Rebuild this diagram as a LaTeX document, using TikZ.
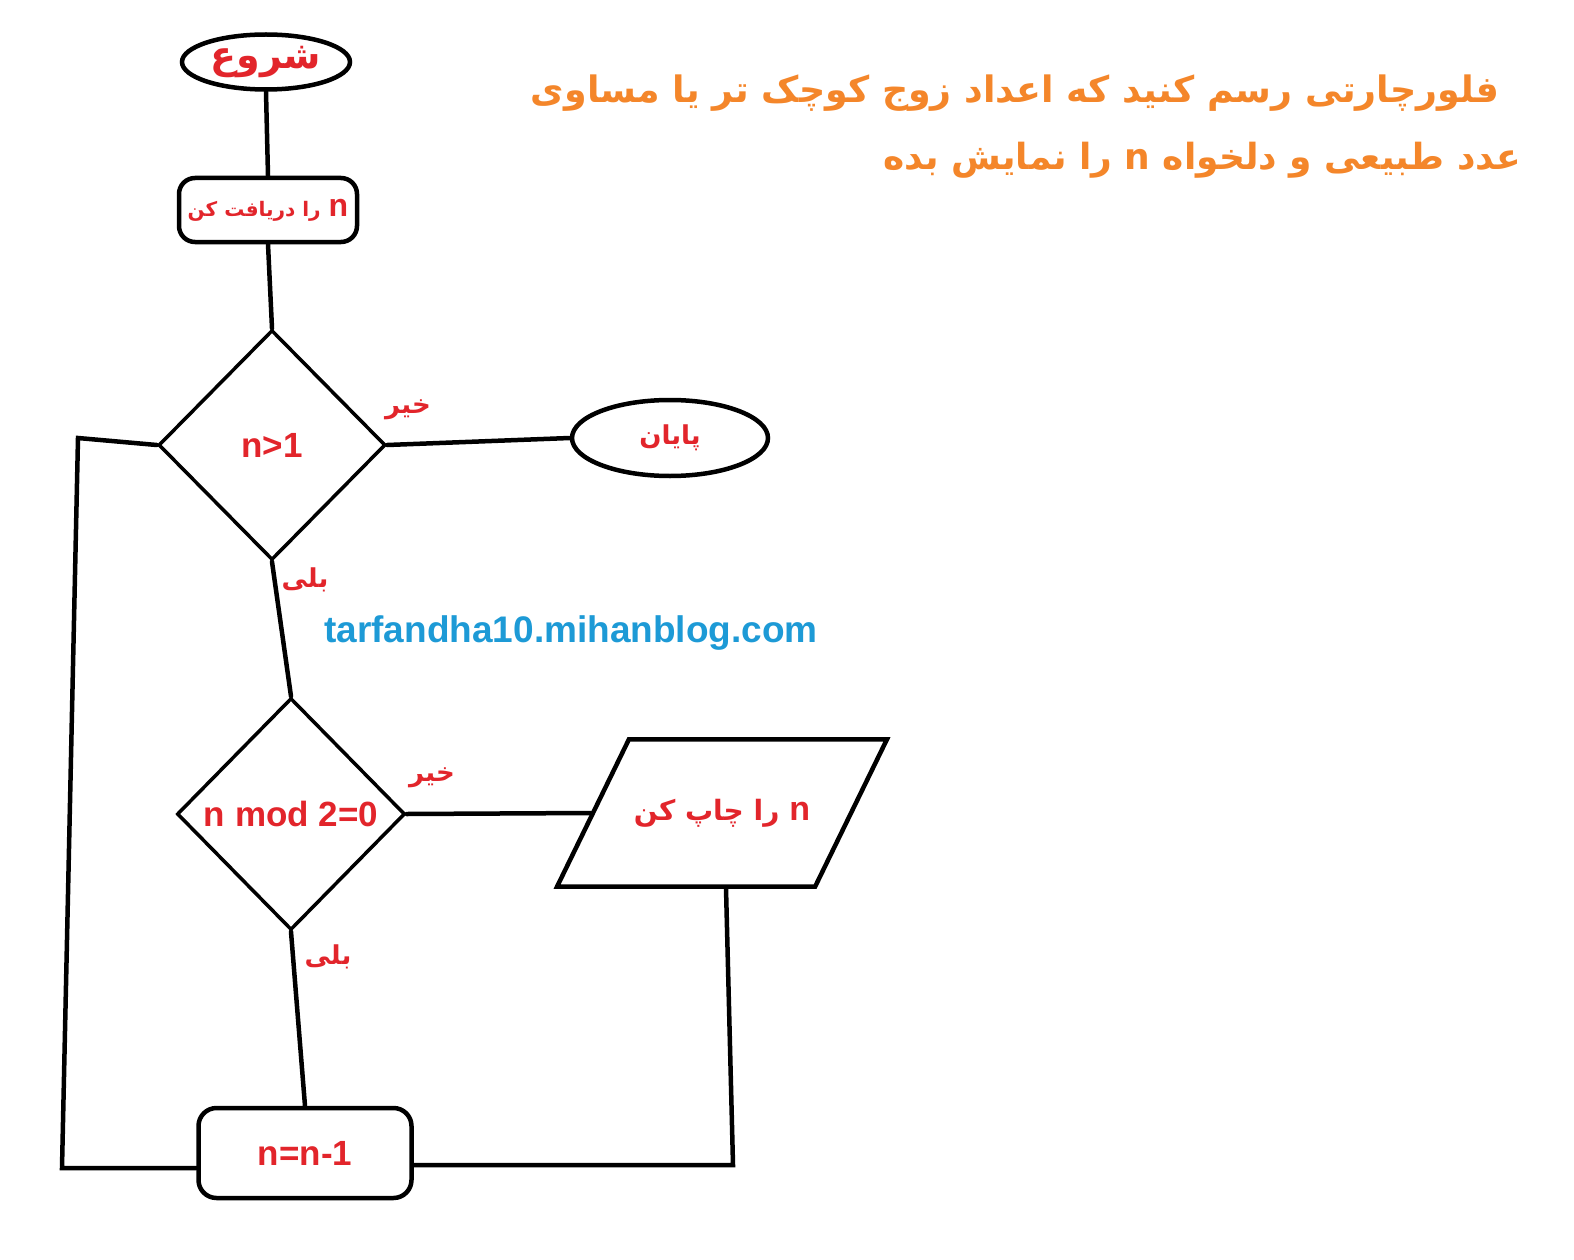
\documentclass[tikz,border=0pt]{standalone}
\usepackage{fontspec}
\setmainfont{Liberation Sans}
\newfontfamily\fa[Script=Arabic]{DejaVu Sans}
\TeXXeTstate=1
\usetikzlibrary{shapes.geometric}
\definecolor{txtred}{HTML}{E2252B}
\definecolor{txtorange}{HTML}{F4862A}
\definecolor{txtblue}{HTML}{1D9AD6}

\begin{document}
\begin{tikzpicture}[x=1pt,y=-1pt,line width=4.5pt,line cap=round,
  term/.style={ellipse,draw,inner sep=0pt},
  iobox/.style={rectangle,rounded corners=16pt,draw,inner sep=0pt},
  test/.style={diamond,draw,inner sep=0pt,line width=3.5pt},
  fatxt/.style={text=txtred,font=\fa\bfseries\fontsize{26}{30}\selectfont},
  entxt/.style={text=txtred,font=\bfseries\fontsize{35}{40}\selectfont}]
  \path[fill=white] (0,0) rectangle (1574,1260);

  % title
  \node[text=txtorange,font=\fa\bfseries\fontsize{36.4}{42}\selectfont] (head1) at (1015,93) {\beginR فلورچارتی رسم کنید که اعداد زوج کوچک تر یا مساوی\endR};
  \node[text=txtorange,font=\fa\bfseries\fontsize{36}{42}\selectfont] (head2) at (1202,160) {\beginR عدد طبیعی و دلخواه n را نمایش بده\endR};

  % shapes
  \node[term,minimum width=168pt,minimum height=55pt,text=txtred,font=\fa\bfseries\fontsize{38}{42}\selectfont] (start) at (266,62) {\beginR شروع\endR};
  \node[iobox,minimum width=178pt,minimum height=64pt,text=txtred] (read) at (268,210) {{\fa\bfseries\fontsize{20}{24}\selectfont\beginR را دریافت کن\endR}\hspace{8pt}{\bfseries\fontsize{32}{36}\selectfont n}};
  \node[test,minimum width=227pt,minimum height=230pt,entxt] (big) at (272,445) {n>1};
  \node[term,minimum width=196pt,minimum height=76pt,fatxt] (stop) at (670,438) {\beginR پایان\endR};
  \node[test,minimum width=228pt,minimum height=232pt,entxt] (even) at (291,814) {n mod 2=0};
  \node[trapezium,draw,trapezium left angle=64,trapezium right angle=116,
        inner xsep=5pt,inner ysep=59.5pt,text=txtred] (show) at (722,813)
        {{\fa\bfseries\fontsize{28}{32}\selectfont\beginR را چاپ کن\endR}\hspace{10pt}{\bfseries\fontsize{34}{38}\selectfont n}};
  \node[iobox,rounded corners=18pt,minimum width=213pt,minimum height=90pt,entxt] (dec) at (305,1153) {n=n-1};

  % labels
  \node[fatxt] (no1) at (408,410) {\beginR خیر\endR};
  \node[fatxt] (yes1) at (305,580) {\beginR بلی\endR};
  \node[fatxt] (no2) at (432,778) {\beginR خیر\endR};
  \node[fatxt] (yes2) at (328,957) {\beginR بلی\endR};
  \node[text=txtblue,font=\bfseries\fontsize{37}{42}\selectfont] (site) at (571,633) {tarfandha10.mihanblog.com};

  % connectors
  \draw (start.south) -- (read.north);
  \draw (read.south) -- (big.north);
  \draw (big.east) -- (stop.west);
  \draw (big.south) -- (even.north);
  \draw (even.east) -- (show.west);
  \draw (even.south) -- (dec.north);
  \coordinate (rloop) at (733,1165);
  \draw ([xshift=4pt]show.south) -- (rloop) -- (rloop -| dec.east);
  \coordinate (lbot) at (62,1168);
  \coordinate (ltop) at (78,438);
  \draw (lbot -| dec.west) -- (lbot) -- (ltop) -- (big.west);
\end{tikzpicture}
\end{document}
